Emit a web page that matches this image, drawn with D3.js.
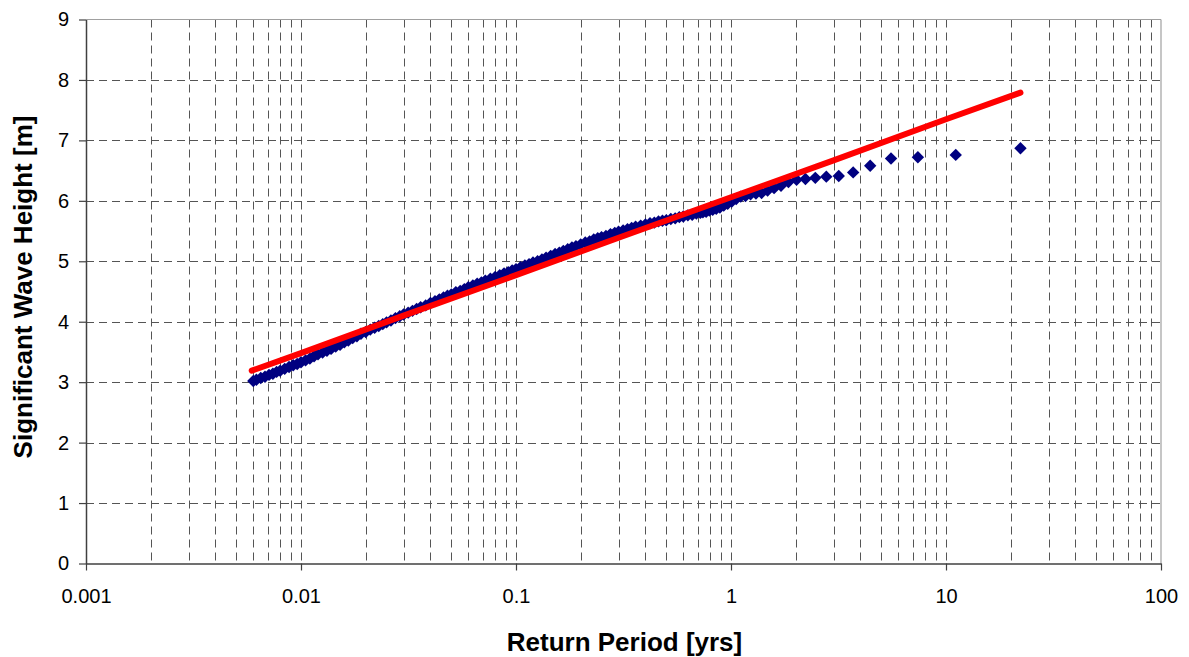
<!DOCTYPE html>
<html>
<head>
<meta charset="utf-8">
<script src="https://cdn.jsdelivr.net/npm/d3@7"></script>
<style>
  html, body { margin: 0; padding: 0; background: #ffffff; }
  svg { display: block; }
  text { font-family: "Liberation Sans", Arial, sans-serif; fill: #000; }
</style>
</head>
<body>
<svg id="chart" width="1189" height="657"></svg>
<script>
// ---------------- DATA ----------------
// Empirical points: return period [yrs] and significant wave height [m]
const returnPeriod = [
  0.0060, 0.0062, 0.0065, 0.0068, 0.0071, 0.0074, 0.0077, 0.0080, 0.0084, 0.0088,
  0.0092, 0.0096, 0.010, 0.0105, 0.011, 0.0115, 0.012, 0.0126, 0.0132, 0.0138,
  0.0145, 0.0152, 0.0159, 0.0166, 0.0174, 0.0182, 0.019, 0.020, 0.021, 0.022,
  0.023, 0.024, 0.025, 0.0262, 0.0275, 0.0288, 0.030, 0.0315, 0.033, 0.0345,
  0.036, 0.038, 0.040, 0.042, 0.044, 0.046, 0.048, 0.050, 0.0525, 0.055,
  0.0575, 0.060, 0.063, 0.066, 0.069, 0.072, 0.076, 0.080, 0.084, 0.088,
  0.092, 0.096, 0.100, 0.105, 0.110, 0.115, 0.120, 0.126, 0.132, 0.138,
  0.145, 0.152, 0.159, 0.166, 0.174, 0.182, 0.190, 0.200, 0.210, 0.220,
  0.230, 0.240, 0.250, 0.262, 0.275, 0.288, 0.300, 0.315, 0.330, 0.345,
  0.360, 0.380, 0.400, 0.420, 0.440, 0.460, 0.480, 0.500, 0.525, 0.550,
  0.575, 0.600, 0.630, 0.660, 0.690, 0.720,
  0.740, 0.766, 0.793, 0.822, 0.854, 0.888, 0.925, 0.965, 1.009, 1.057,
  1.110, 1.168, 1.233, 1.306, 1.388, 1.480, 1.586, 1.708, 1.850, 2.018,
  2.220, 2.467, 2.775, 3.171, 3.700, 4.440, 5.550, 7.400, 11.10, 22.20
];
const waveHeight = [
  3.02, 3.04, 3.07, 3.09, 3.12, 3.14, 3.17, 3.19, 3.22, 3.25,
  3.28, 3.30, 3.33, 3.36, 3.39, 3.43, 3.46, 3.49, 3.52, 3.55,
  3.59, 3.62, 3.66, 3.69, 3.73, 3.76, 3.80, 3.83, 3.87, 3.90,
  3.93, 3.96, 3.99, 4.02, 4.06, 4.09, 4.12, 4.15, 4.18, 4.21,
  4.24, 4.27, 4.31, 4.34, 4.37, 4.40, 4.43, 4.45, 4.49, 4.51,
  4.54, 4.57, 4.60, 4.63, 4.65, 4.68, 4.71, 4.74, 4.77, 4.80,
  4.82, 4.85, 4.87, 4.90, 4.93, 4.95, 4.98, 5.00, 5.03, 5.06,
  5.09, 5.12, 5.14, 5.17, 5.20, 5.23, 5.25, 5.28, 5.31, 5.33,
  5.36, 5.38, 5.40, 5.42, 5.45, 5.47, 5.49, 5.51, 5.53, 5.55,
  5.57, 5.59, 5.61, 5.63, 5.64, 5.66, 5.67, 5.68, 5.70, 5.71,
  5.73, 5.74, 5.76, 5.77, 5.79, 5.80,
  5.81, 5.82, 5.84, 5.85, 5.87, 5.89, 5.92, 5.95, 5.99, 6.03,
  6.07, 6.08, 6.11, 6.12, 6.13, 6.17, 6.21, 6.25, 6.31, 6.35,
  6.36, 6.38, 6.40, 6.41, 6.47, 6.58, 6.70, 6.72, 6.76, 6.87
];
// Fitted distribution (red line)
const fitPeriod = [0.0059, 0.01, 0.03, 0.1, 0.3, 1, 3, 10, 22.2];
const fitHeight = [3.19, 3.48, 4.10, 4.77, 5.39, 6.06, 6.67, 7.35, 7.79];

// Axis ticks
const xTickValues = [0.001, 0.01, 0.1, 1, 10, 100];
const xTickLabels = ["0.001", "0.01", "0.1", "1", "10", "100"];
const yTickValues = [0, 1, 2, 3, 4, 5, 6, 7, 8, 9];
const xTitle = "Return Period [yrs]";
const yTitle = "Significant Wave Height [m]";

// ---------------- LAYOUT ----------------
const L = 86, R = 1161, T = 19.5, B = 563.5;
const svg = d3.select("#chart");

const x = d3.scaleLog().domain([0.001, 100]).range([L, R]);
const y = d3.scaleLinear().domain([0, 9]).range([B, T]);

// minor gridline positions (2..9 in each decade plus decade lines)
const minorX = [];
for (let e = -3; e < 2; e++) {
  for (let k = 1; k <= 9; k++) {
    const v = k * Math.pow(10, e);
    if (v > 0.001 * 1.0001) minorX.push(v);
  }
}

const grid = svg.append("g");
grid.selectAll("line.vg").data(minorX).enter().append("line")
  .attr("x1", d => Math.round(x(d)) + 0.5).attr("x2", d => Math.round(x(d)) + 0.5)
  .attr("y1", T).attr("y2", B)
  .attr("stroke", "#555555").attr("stroke-width", 1)
  .attr("stroke-dasharray", "8,5");
grid.selectAll("line.hg").data(yTickValues.filter(v => v > 0 && v < 9)).enter().append("line")
  .attr("x1", L).attr("x2", R)
  .attr("y1", d => Math.round(y(d)) + 0.5).attr("y2", d => Math.round(y(d)) + 0.5)
  .attr("stroke", "#555555").attr("stroke-width", 1)
  .attr("stroke-dasharray", "8,5");

// top and right border
svg.append("line").attr("x1", L).attr("x2", R).attr("y1", T).attr("y2", T)
  .attr("stroke", "#a0a0a0").attr("stroke-width", 1.2);
svg.append("line").attr("x1", R).attr("x2", R).attr("y1", T).attr("y2", B)
  .attr("stroke", "#a0a0a0").attr("stroke-width", 1.2);

// axes
const xAxis = d3.axisBottom(x).tickValues(xTickValues)
  .tickFormat((d, i) => xTickLabels[i]).tickSize(7).tickSizeOuter(0);
const gx = svg.append("g").attr("transform", `translate(0,${B})`).call(xAxis);
gx.select(".domain").attr("stroke", "#404040").attr("stroke-width", 1.5);
gx.selectAll(".tick line").attr("stroke", "#404040").attr("stroke-width", 1.2);
gx.selectAll(".tick text").attr("y", 39.5).attr("dy", 0)
  .style("font-size", "20px").style("font-family", "'Liberation Sans', Arial, sans-serif")
  .attr("fill", "#000");

const yAxis = d3.axisLeft(y).tickValues(yTickValues)
  .tickFormat(d3.format("d")).tickSize(7).tickSizeOuter(0).tickPadding(10);
const gy = svg.append("g").attr("transform", `translate(${L},0)`).call(yAxis);
gy.select(".domain").attr("stroke", "#404040").attr("stroke-width", 1.5);
gy.selectAll(".tick line").attr("stroke", "#404040").attr("stroke-width", 1.2);
gy.selectAll(".tick text")
  .style("font-size", "20px").style("font-family", "'Liberation Sans', Arial, sans-serif")
  .attr("fill", "#000");

// data points (diamonds)
const pts = returnPeriod.map((t, i) => ({ t, h: waveHeight[i] }));
const s = 6.2;
svg.append("g").selectAll("path").data(pts).enter().append("path")
  .attr("d", d => {
    const cx = x(d.t), cy = y(d.h);
    return `M${cx},${cy - s}L${cx + s},${cy}L${cx},${cy + s}L${cx - s},${cy}Z`;
  })
  .attr("fill", "#000080");

// fitted line
const fit = fitPeriod.map((t, i) => ({ t, h: fitHeight[i] }));
svg.append("path").datum(fit)
  .attr("d", d3.line().x(d => x(d.t)).y(d => y(d.h)))
  .attr("fill", "none").attr("stroke", "#ff0000").attr("stroke-width", 6)
  .attr("stroke-linecap", "round").attr("stroke-linejoin", "round");

// titles
svg.append("text").attr("x", (L + R) / 2 + 1).attr("y", 651)
  .attr("text-anchor", "middle").style("font-size", "26px").style("font-weight", "bold")
  .text(xTitle);
svg.append("text").attr("transform", "translate(32,287) rotate(-90)")
  .attr("text-anchor", "middle").style("font-size", "26px").style("font-weight", "bold")
  .text(yTitle);
</script>
</body>
</html>
